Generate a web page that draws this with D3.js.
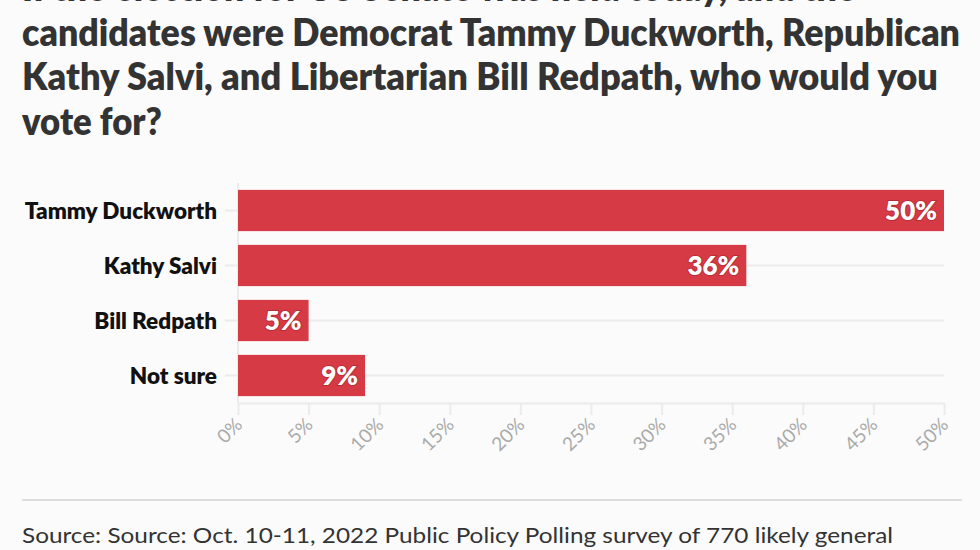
<!DOCTYPE html>
<html>
<head>
<meta charset="utf-8">
<script src="https://cdn.jsdelivr.net/npm/d3@7"></script>
<style>
  html, body { margin: 0; padding: 0; background: #fbfbfb; }
  #chart { width: 980px; height: 550px; overflow: hidden; }
</style>
</head>
<body>
<div id="chart"></div>
<script>
// Poll data
const categories = ["Tammy Duckworth", "Kathy Salvi", "Bill Redpath", "Not sure"];
const values = [50, 36, 5, 9];
const xTicks = [0, 5, 10, 15, 20, 25, 30, 35, 40, 45, 50];

// Texts
const titleLines = [
  "If the election for US Senate was held today, and the",
  "candidates were Democrat Tammy Duckworth, Republican",
  "Kathy Salvi, and Libertarian Bill Redpath, who would you",
  "vote for?"
];
const titleWidths = [834, 938, 916, 140];
const sourceText = "Source: Source: Oct. 10-11, 2022 Public Policy Polling survey of 770 likely general";

const chart = (() => {

  // Figure
  const width = 980;
  const height = 550;
  const marginLeft = 238;
  const marginRight = 36;
  const plotTop = 183;
  const plotBottom = 403;
  const barColor = "#d63a44";

  const svg = d3.create("svg")
      .attr("viewBox", [0, 0, width, height])
      .attr("width", width)
      .attr("height", height)
      .style("font-family", "Lato, 'Open Sans', sans-serif")
      .style("background", "#fbfbfb");

  // Title
  svg.append("g")
    .selectAll("text")
    .data(titleLines)
    .join("text")
      .attr("x", 22)
      .attr("y", (d, i) => 1 + i * 44.5)
      .attr("fill", "#333")
      .attr("font-size", 37)
      .attr("font-weight", 800)
      .attr("textLength", (d, i) => titleWidths[i])
      .attr("lengthAdjust", "spacingAndGlyphs")
      .text(d => d);

  // X values
  const x = d3.scaleLinear()
      .domain([0, 50])
      .range([marginLeft, width - marginRight]);

  // Y values
  const y = d3.scaleBand()
      .domain(categories)
      .range([plotTop, plotBottom])
      .paddingInner(0.25)
      .paddingOuter(0.125);

  // Horizontal grid lines
  svg.append("g")
    .selectAll("line")
    .data(categories)
    .join("line")
      .attr("x1", marginLeft - 13)
      .attr("x2", x(50))
      .attr("y1", d => y(d) + y.bandwidth() / 2)
      .attr("y2", d => y(d) + y.bandwidth() / 2)
      .attr("stroke", "#ebebeb")
      .attr("stroke-width", 2);

  // Vertical baseline
  svg.append("line")
      .attr("x1", x(0)).attr("x2", x(0))
      .attr("y1", plotTop).attr("y2", plotBottom)
      .attr("stroke", "#ebebeb")
      .attr("stroke-width", 2);

  // X-axis
  const xAxis = svg.append("g")
      .attr("transform", `translate(0,${plotBottom})`)
      .call(d3.axisBottom(x).tickValues(xTicks).tickFormat(d => d + "%").tickSize(12).tickSizeOuter(0));
  xAxis.select(".domain")
      .attr("stroke", "#ebebeb")
      .attr("stroke-width", 2);
  xAxis.selectAll(".tick line")
      .attr("stroke", "#ebebeb")
      .attr("stroke-width", 2);
  xAxis.selectAll(".tick text")
      .attr("fill", "#aaaaaa")
      .attr("font-size", 19)
      .attr("font-weight", 400)
      .attr("font-family", "Lato, sans-serif")
      .attr("text-anchor", "end")
      .attr("dy", null)
      .attr("y", null)
      .attr("transform", "translate(5,23) rotate(-45)");

  // Bars
  svg.append("g")
    .selectAll("rect")
    .data(values)
    .join("rect")
      .attr("x", x(0))
      .attr("y", (d, i) => y(categories[i]))
      .attr("width", d => x(d) - x(0))
      .attr("height", y.bandwidth())
      .attr("fill", barColor);

  // Value labels
  svg.append("g")
    .selectAll("text")
    .data(values)
    .join("text")
      .attr("x", d => x(d) - 7)
      .attr("y", (d, i) => y(categories[i]) + y.bandwidth() / 2)
      .attr("dy", "0.36em")
      .attr("text-anchor", "end")
      .attr("fill", "#fff")
      .attr("stroke", "#a8222c")
      .attr("stroke-width", 2)
      .attr("stroke-opacity", 0.6)
      .attr("paint-order", "stroke")
      .attr("font-size", 26)
      .attr("font-weight", 800)
      .text(d => d + "%");

  // Category labels
  svg.append("g")
    .selectAll("text")
    .data(categories)
    .join("text")
      .attr("x", 217)
      .attr("y", d => y(d) + y.bandwidth() / 2)
      .attr("dy", "0.36em")
      .attr("text-anchor", "end")
      .attr("fill", "#111")
      .attr("font-size", 22.5)
      .attr("font-weight", 800)
      .text(d => d);

  // Footer
  svg.append("line")
      .attr("x1", 22).attr("x2", 962)
      .attr("y1", 500).attr("y2", 500)
      .attr("stroke", "#dddddd")
      .attr("stroke-width", 2);
  svg.append("text")
      .attr("x", 22)
      .attr("y", 543)
      .attr("fill", "#333")
      .attr("font-size", 22)
      .attr("font-weight", 400)
      .attr("textLength", 871)
      .attr("lengthAdjust", "spacingAndGlyphs")
      .text(sourceText);

  document.getElementById('chart').appendChild(svg.node());
})();
</script>
</body>
</html>
